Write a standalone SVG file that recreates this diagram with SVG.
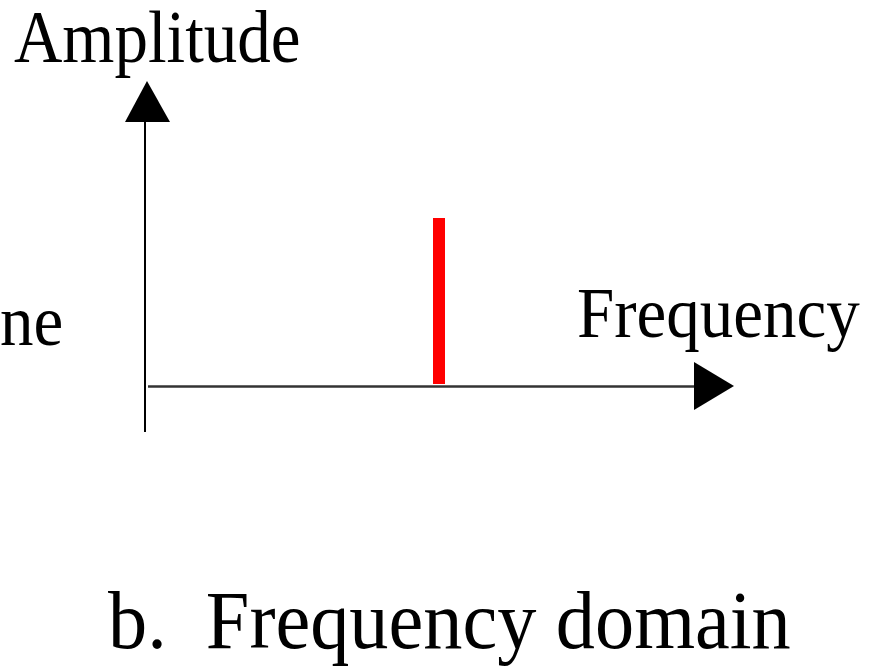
<svg xmlns="http://www.w3.org/2000/svg" width="880" height="667" viewBox="0 0 880 667">
<style>
.t{font-family:"Liberation Serif","Times New Roman",serif;fill:#000}
.ax{stroke:#000;stroke-width:2;fill:none}
</style>
<rect width="880" height="667" fill="#fff"/>
<g id="connectors">
<line class="ax" x1="145" y1="120" x2="145" y2="432"/>
<polygon points="147,81 125,122 170,122" fill="#000"/>
<line x1="148" y1="386.5" x2="696" y2="386.5" stroke="#333" stroke-width="2.5"/>
<polygon points="694,362 734,386 694,410" fill="#000"/>
</g>
<g id="spike">
<rect x="433" y="218" width="12" height="166" fill="#f00"/>
</g>
<g id="labels">
<text class="t" transform="translate(14,62) scale(1,1.09)" font-size="67">Amplitude</text>
<text class="t" transform="translate(577,337) scale(1,1.06)" font-size="67">Frequency</text>
<text class="t" transform="translate(0,345) scale(1,1.06)" font-size="67">ne</text>
<text class="t" transform="translate(108,648) scale(1,1.05)" font-size="78.3" xml:space="preserve">b.  Frequency domain</text>
</g>
</svg>
